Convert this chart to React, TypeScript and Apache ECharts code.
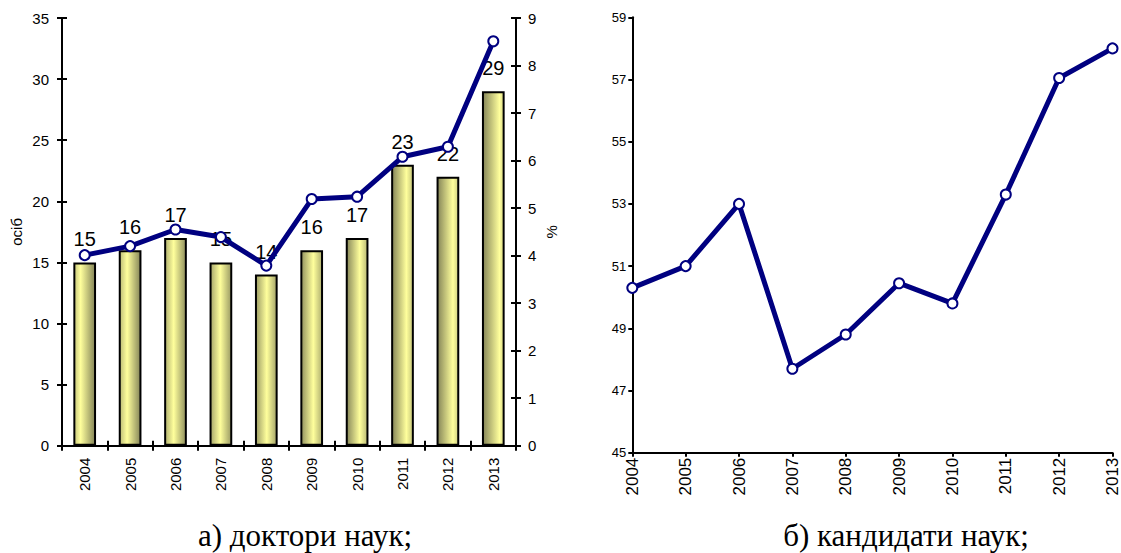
import React, { useEffect, useRef } from "react";
import * as echarts from "echarts";

const years = ["2004", "2005", "2006", "2007", "2008", "2009", "2010", "2011", "2012", "2013"];
const doctorsCount = [15, 16, 17, 15, 14, 16, 17, 23, 22, 29];
const doctorsPercent = [4.01, 4.2, 4.55, 4.39, 3.79, 5.19, 5.24, 6.08, 6.29, 8.51];
const candidatesPercent = [50.3, 51.0, 53.0, 47.7, 48.8, 50.45, 49.8, 53.3, 57.05, 58.0];
const captionA = "а) доктори наук;";
const captionB = "б) кандидати наук;";

const SANS = "'Liberation Sans', Arial, sans-serif";
const SERIF = "'Liberation Serif', 'Times New Roman', serif";
const NAVY = "#000080";

function mix(t: number) {
  const a = [255, 255, 156];
  const b = [133, 133, 88];
  const c = a.map((v, k) => Math.round(v + (b[k] - v) * Math.min(1, Math.max(0, t))));
  return `rgb(${c[0]},${c[1]},${c[2]})`;
}

function barColor(p: any) {
  const i = p.dataIndex;
  const h = 0.3 + (0.5 * i) / 9;
  return new echarts.graphic.LinearGradient(0, 0, 1, 0, [
    { offset: 0, color: mix(h / 0.65) },
    { offset: h, color: mix(0) },
    { offset: 1, color: mix((1 - h) / 0.65) },
  ]);
}

export default function App() {
  const ref = useRef<HTMLDivElement>(null);
  useEffect(() => {
    if (!ref.current) return;
    const chart = echarts.init(ref.current, undefined, { renderer: "svg" });
    const axisLine = { show: true, lineStyle: { color: "#000", width: 2 } };
    const tickStyle = { color: "#000", width: 2 };
    chart.setOption({
      animation: false,
      grid: [
        { left: 62, top: 18, width: 454, height: 427.7 },
        { left: 632.3, top: 17.3, width: 486, height: 435.4 },
      ],
      xAxis: [
        {
          type: "category",
          gridIndex: 0,
          position: "bottom",
          data: years,
          axisLine,
          axisTick: { show: true, length: 5, lineStyle: tickStyle },
          axisLabel: { rotate: 90, fontSize: 15, fontFamily: SANS, color: "#000", margin: 12 },
        },
        {
          type: "category",
          gridIndex: 0,
          position: "bottom",
          data: years,
          axisLine: { show: false },
          axisTick: { show: true, inside: true, length: 5, lineStyle: tickStyle },
          axisLabel: { show: false },
        },
        {
          type: "category",
          gridIndex: 1,
          position: "bottom",
          boundaryGap: false,
          data: years,
          axisLine,
          axisTick: { show: true, length: 4, lineStyle: tickStyle },
          axisLabel: { rotate: 90, fontSize: 17, fontFamily: SANS, color: "#000", margin: 5 },
        },
      ],
      yAxis: [
        {
          type: "value",
          gridIndex: 0,
          position: "left",
          min: 0,
          max: 35,
          interval: 5,
          name: "осіб",
          nameLocation: "middle",
          nameRotate: 90,
          nameGap: 38,
          nameTextStyle: { fontSize: 15, fontFamily: SANS, color: "#000" },
          splitLine: { show: false },
          axisLine,
          axisTick: { show: true, length: 5, lineStyle: tickStyle },
          axisLabel: { fontSize: 15, fontFamily: SANS, color: "#000", margin: 13 },
        },
        {
          type: "value",
          gridIndex: 0,
          position: "right",
          min: 0,
          max: 9,
          interval: 1,
          name: "%",
          nameLocation: "middle",
          nameRotate: 90,
          nameGap: 28,
          nameTextStyle: { fontSize: 15, fontFamily: SANS, color: "#000" },
          splitLine: { show: false },
          axisLine,
          axisTick: { show: true, length: 5, lineStyle: tickStyle },
          axisLabel: { fontSize: 15, fontFamily: SANS, color: "#000", margin: 12 },
        },
        {
          type: "value",
          gridIndex: 0,
          position: "left",
          min: 0,
          max: 35,
          interval: 5,
          splitLine: { show: false },
          axisLine: { show: false },
          axisTick: { show: true, inside: true, length: 5, lineStyle: tickStyle },
          axisLabel: { show: false },
        },
        {
          type: "value",
          gridIndex: 0,
          position: "right",
          min: 0,
          max: 9,
          interval: 1,
          splitLine: { show: false },
          axisLine: { show: false },
          axisTick: { show: true, inside: true, length: 5, lineStyle: tickStyle },
          axisLabel: { show: false },
        },
        {
          type: "value",
          gridIndex: 1,
          position: "left",
          min: 45,
          max: 59,
          interval: 2,
          splitLine: { show: false },
          axisLine,
          axisTick: { show: true, length: 4, lineStyle: tickStyle },
          axisLabel: { fontSize: 13, fontFamily: SANS, color: "#000", margin: 6 },
        },
      ],
      series: [
        {
          type: "bar",
          xAxisIndex: 0,
          yAxisIndex: 0,
          data: doctorsCount,
          barWidth: "50%",
          z: 2,
          itemStyle: { color: barColor, borderColor: "#000", borderWidth: 2 },
          label: {
            show: true,
            position: "top",
            distance: 13,
            fontSize: 20,
            fontFamily: SANS,
            color: "#000",
          },
        },
        {
          type: "line",
          xAxisIndex: 0,
          yAxisIndex: 1,
          data: doctorsPercent,
          z: 10,
          symbol: "circle",
          symbolSize: 10,
          lineStyle: { color: NAVY, width: 5 },
          itemStyle: { color: "#fff", borderColor: NAVY, borderWidth: 2 },
        },
        {
          type: "line",
          xAxisIndex: 2,
          yAxisIndex: 4,
          data: candidatesPercent,
          z: 10,
          symbol: "circle",
          symbolSize: 10,
          lineStyle: { color: NAVY, width: 5 },
          itemStyle: { color: "#fff", borderColor: NAVY, borderWidth: 2 },
        },
      ],
      graphic: [
        {
          type: "text",
          x: 305,
          y: 551,
          style: {
            text: captionA,
            font: `31px ${SERIF}`,
            fill: "#000",
            textAlign: "center",
            textVerticalAlign: "bottom",
          },
        },
        {
          type: "text",
          x: 906,
          y: 551,
          style: {
            text: captionB,
            font: `31px ${SERIF}`,
            fill: "#000",
            textAlign: "center",
            textVerticalAlign: "bottom",
          },
        },
      ],
    });
    return () => chart.dispose();
  }, []);
  return (
    <div
      ref={ref}
      style={{ position: "fixed", left: 0, top: 0, width: 1121, height: 553, background: "#fff" }}
    />
  );
}
